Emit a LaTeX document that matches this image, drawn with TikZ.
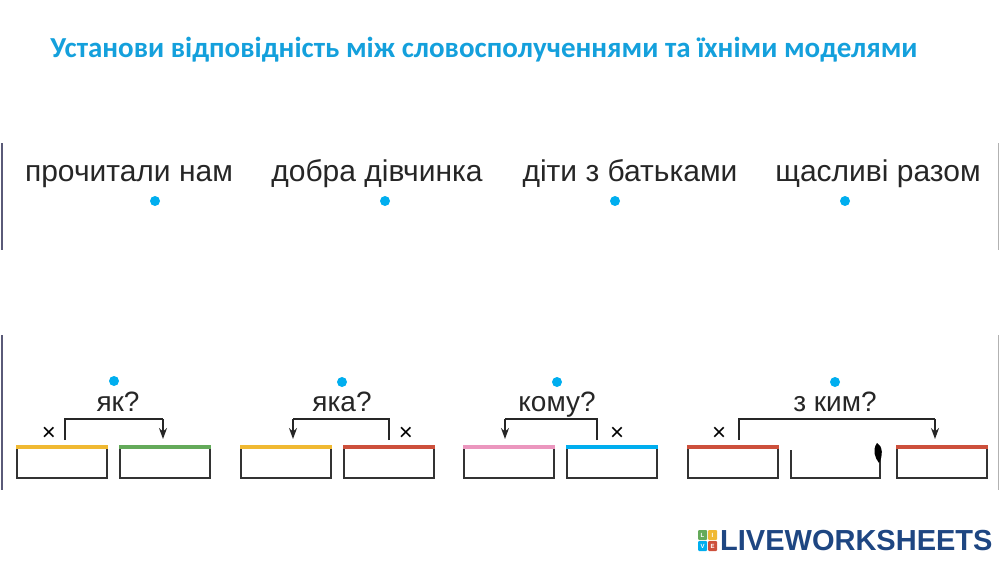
\documentclass[tikz,border=0pt]{standalone}
\usepackage{fontspec}
\setmainfont{Liberation Sans}
\newfontfamily\titlefont{Carlito}
\usetikzlibrary{arrows.meta}
\definecolor{cy}{RGB}{0,174,239}
\definecolor{ttl}{RGB}{20,160,220}
\definecolor{ylw}{RGB}{240,185,50}
\definecolor{grn}{RGB}{100,170,90}
\definecolor{rd}{RGB}{205,80,60}
\definecolor{pnk}{RGB}{235,150,190}
\definecolor{lw}{RGB}{30,70,130}
\definecolor{frm}{RGB}{90,90,120}
\tikzset{
 word/.style={font=\fontsize{30}{32}\selectfont, text=black!85, inner sep=0, anchor=base},
 q/.style={font=\fontsize{28}{32}\selectfont, text=black!85, inner sep=0, anchor=base},
 dotc/.style={fill=cy, circle, inner sep=0, minimum size=10pt},
 bx/.style={draw=black!80, line width=1.5pt},
 br/.style={draw=black!85, line width=1.6pt},
 arr/.style={br,-{Stealth[length=11pt,width=8pt]}},
 xm/.style={font=\fontsize{24}{26}\selectfont, inner sep=0, anchor=base}
}
\begin{document}
\begin{tikzpicture}[x=1pt,y=-1pt]
\useasboundingbox (0,0) rectangle (1000,562);
\node[font=\titlefont\bfseries\fontsize{29}{32}\selectfont, text=ttl, anchor=base] (t) at (484,57) {Установи відповідність між словосполученнями та їхніми моделями};
\draw[frm, line width=1.5pt] (2,143) -- (2,250);
\draw[black!30, line width=0.8pt] (998,143) -- (998,250);
\draw[frm, line width=1.5pt] (2,335) -- (2,490);
\draw[black!30, line width=0.8pt] (998,335) -- (998,490);
% words
\node[word] (w1) at (129,181) {прочитали нам};
\node[word] (w2) at (377,181) {добра дівчинка};
\node[word] (w3) at (630,181) {діти з батьками};
\node[word] (w4) at (878,181) {щасливі разом};
\node[dotc] (d1) at (155,201) {};
\node[dotc] (d2) at (385,201) {};
\node[dotc] (d3) at (615,201) {};
\node[dotc] (d4) at (845,201) {};
% boxes
\foreach \n/\a/\b/\c in {b1/17/107/ylw, b2/120/210/grn, b3/241/331/ylw, b4/344/434/rd, b5/464/554/pnk, b6/567/657/cy, b7/688/778/rd, b9/897/987/rd}{
  \draw[bx] (\a,447) rectangle (\b,478);
  \draw[\c, line width=4pt] (\a-0.7,446.5) -- (\b+0.7,446.5);
  \coordinate (\n) at (\a,447);
}
\draw[bx] (791,450) -- (791,478) -- (880,478) -- (880,455);
\fill[black] (877,443) .. controls (872,450) and (875,458) .. (879,463) .. controls (883,456) and (883,446) .. (877,443);
% brackets
\coordinate (k1a) at (65,440);
\draw[br] (k1a) -- (65,419) -- (163,419);
\draw[arr] (163,419) -- (163,439);
\node[xm] (x1) at (49,440) {×};
\node[q] (q1) at (118,411) {як?};
\node[dotc] (e1) at (114,381) {};

\coordinate (k2a) at (389,440);
\draw[br] (k2a) -- (389,419) -- (293,419);
\draw[arr] (293,419) -- (293,439);
\node[xm] (x2) at (406,440) {×};
\node[q] (q2) at (342,411) {яка?};
\node[dotc] (e2) at (342,382) {};

\coordinate (k3a) at (597,440);
\draw[br] (k3a) -- (597,419) -- (505,419);
\draw[arr] (505,419) -- (505,439);
\node[xm] (x3) at (617,440) {×};
\node[q] (q3) at (557,411) {кому?};
\node[dotc] (e3) at (557,382) {};

\coordinate (k4a) at (739,440);
\draw[br] (k4a) -- (739,419) -- (935,419);
\draw[arr] (935,419) -- (935,439);
\node[xm] (x4) at (719,440) {×};
\node[q] (q4) at (835,411) {з ким?};
\node[dotc] (e4) at (835,382) {};
% logo
\foreach \i/\j/\c/\l in {0/0/grn/L,1/0/ylw/I,0/1/cy/V,1/1/rd/E}{
  \fill[\c, rounded corners=1pt] (698+\i*10,530+\j*11) rectangle ++(9,10);
  \node[font=\bfseries\fontsize{6}{6}\selectfont, text=white, inner sep=0] at (702.5+\i*10,535+\j*11) {\l};
}
\node[anchor=west, font=\bfseries\fontsize{29}{30}\selectfont, text=lw, inner sep=0] (logo) at (720,541) {LIVEWORKSHEETS};
\end{tikzpicture}
\end{document}
